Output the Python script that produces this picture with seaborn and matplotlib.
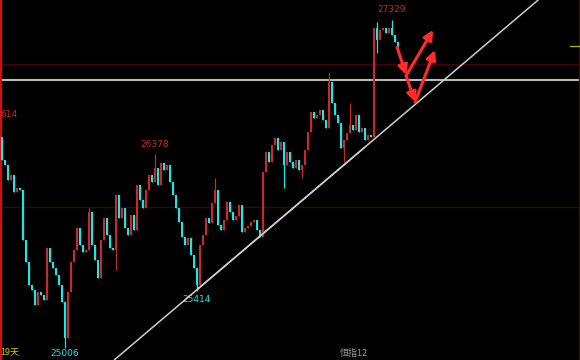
import matplotlib
matplotlib.use("Agg")
import matplotlib.pyplot as plt
import numpy as np
import pandas as pd
import seaborn as sns

# ---------------- data ----------------
first_open = 26501
closes = [
    26338, 26303, 26197, 26232, 26112, 26140, 26126, 25772, 25616, 25453,
    25418, 25312, 25404, 25382, 25347, 25715, 25616, 25574, 25524, 25453,
    25333, 25078, 25404, 25616, 25701, 25857, 25736, 25687, 25701, 25970,
    25736, 25630, 25503, 25772, 25928, 25807, 25715, 25701, 26090, 25928,
    25998, 25857, 25807, 25949, 25843, 26161, 26055, 25998, 26126, 26232,
    26182, 26282, 26161, 26317, 26267, 26303, 26182, 26090, 25998, 25899,
    25793, 25736, 25786, 25666, 25574, 25453, 25736, 25807, 25928, 25892,
    26034, 26126, 25878, 25843, 25913, 26041, 25970, 25913, 25942, 26020,
    25828, 25857, 25871, 25899, 25913, 25843, 25793, 26253, 26395, 26324,
    26444, 26494, 26409, 26466, 26303, 26395, 26324, 26282, 26338, 26267,
    26303, 26409, 26536, 26678, 26636, 26657, 26692, 26621, 26565, 26890,
    26742, 26657, 26600, 26423, 26480, 26529, 26586, 26551, 26657, 26536,
    26565, 26480, 26515, 26501, 27273, 27188, 27259, 27273, 27237, 27273,
    27223, 27174, 27131,
]
high_marks = {0: 26501, 29: 25998, 51: 26378, 71: 26211, 109: 26954,
              116: 26742, 125: 27315, 130: 27329}
low_marks = {21: 25006, 38: 25559, 65: 25414, 94: 26140, 100: 26211,
             114: 26324, 125: 27096}

level_gray = 26905
levels_darkred = [27018, 26006]
trend_x = [65, 121]
trend_y = [25420, 26430]

peak_labels = [(51, 26378, "26378", "high"), (130, 27329, "27329", "high"),
               (21, 25006, "25006", "low"), (65, 25414, "25414", "low")]

arrow_paths = [
    [(131.7, 27138), (134.7, 26940)],
    [(134.7, 26935), (143.7, 27259)],
    [(134.7, 26935), (137.7, 26749)],
    [(137.7, 26749), (144.3, 27117)],
]

# ---------------- build OHLC ----------------
n = len(closes)
df = pd.DataFrame({"i": np.arange(n), "close": closes})
df["open"] = [first_open] + closes[:-1]
df["up"] = df["close"] >= df["open"]
df["top"] = df[["open", "close"]].max(axis=1)
df["bot"] = df[["open", "close"]].min(axis=1)
df["high"] = [high_marks.get(k, t) for k, t in zip(df["i"], df["top"])]
df["low"] = [low_marks.get(k, b) for k, b in zip(df["i"], df["bot"])]
df["h"] = (df["top"] - df["bot"]).clip(lower=8)

RED = "#c62b2b"
CYAN = "#1de6e6"

sns.set_theme(style="dark", rc={"axes.facecolor": "black",
                                "figure.facecolor": "black",
                                "axes.grid": False})

fig = plt.figure(figsize=(5.8, 3.6), dpi=100)
ax = fig.add_axes([0, 0, 1, 1])
ax.set_facecolor("black")

colors = [RED if u else CYAN for u in df["up"]]

# horizontal levels
for lv in levels_darkred:
    ax.axhline(lv, color="#4a0000", lw=0.9, zorder=1)
ax.axhline(level_gray, color="#b8b8b8", lw=1.5, zorder=1)

# wicks and bodies
ax.vlines(df["i"], df["low"], df["high"], colors=colors, lw=0.9, zorder=2)
ax.bar(df["i"], df["h"], bottom=df["bot"], width=0.85, color=colors,
       linewidth=0, zorder=3)

# trend line
sns.lineplot(x=trend_x, y=trend_y, ax=ax, color="#cfcfcf", lw=1.1)
ax.axline((trend_x[0], trend_y[0]), (trend_x[1], trend_y[1]),
          color="#cfcfcf", lw=1.1, zorder=4)

# labels for extremes
for xi, val, txt, kind in peak_labels:
    col = RED if kind == "high" else CYAN
    dy = 4 if kind == "high" else (-0.5 if val < 25100 else -3)
    va = "bottom" if kind == "high" else "top"
    ax.annotate(txt, (xi, val), xytext=(0, dy), textcoords="offset points",
                ha="center", va=va, color=col, fontsize=6.5)

# arrows
for (x0, y0), (x1, y1) in arrow_paths:
    ax.annotate("", xy=(x1, y1), xytext=(x0, y0),
                arrowprops=dict(arrowstyle="-|>", color="#ff2b2b", lw=2.2,
                                mutation_scale=14, shrinkA=0, shrinkB=0),
                zorder=6)

ax.set_xlim(-2 / 3, 578 / 3)
ax.set_ylim(24922, 27471)
ax.axis("off")

# frame decorations
ax.plot([0.002, 0.002], [0, 1], transform=ax.transAxes, color="#d01010", lw=1.6)
ax.plot([0.999, 0.999], [0, 1], transform=ax.transAxes, color="#5a0000", lw=0.8)
ax.plot([0.983, 1.0], [0.872, 0.872], transform=ax.transAxes, color="#a8a820", lw=1.0)

cjk = ["Noto Sans CJK SC", "DejaVu Sans"]
ax.text(0.0, 0.683, "614", transform=ax.transAxes, color=RED, fontsize=6.5,
        ha="left", va="center")
ax.text(0.0, 0.022, "19天", transform=ax.transAxes, color="#c8c800",
        fontsize=6.5, ha="left", va="center", family=cjk)
ax.text(0.585, 0.018, "恒指12", transform=ax.transAxes, color="#9a9a9a",
        fontsize=6.5, ha="left", va="center", family=cjk)

fig.savefig("out.png", dpi=100, facecolor="black")
